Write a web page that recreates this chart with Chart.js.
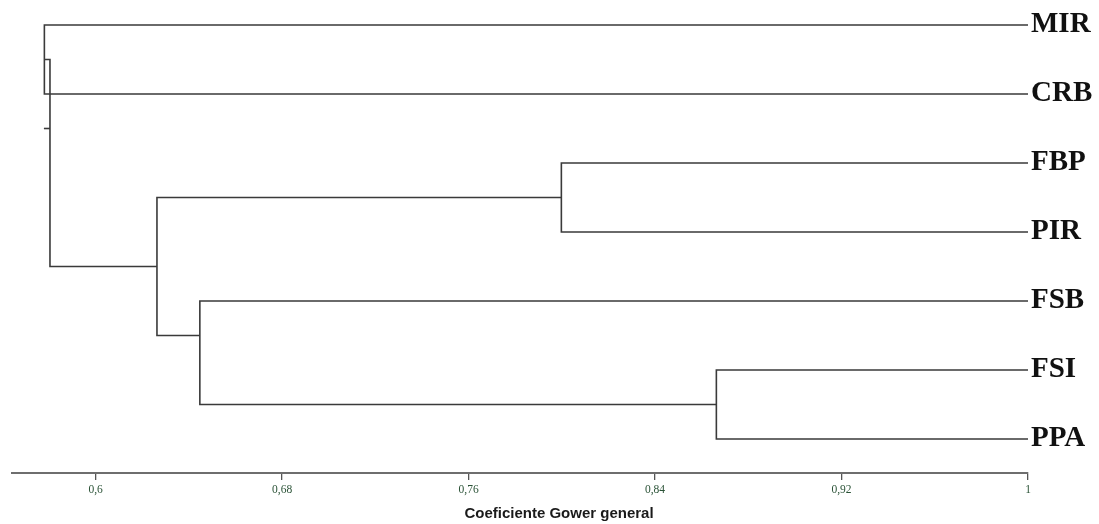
<!DOCTYPE html>
<html>
<head>
<meta charset="utf-8">
<script src="https://cdn.jsdelivr.net/npm/chart.js@4.4.1/dist/chart.umd.min.js"></script>
<style>
  html, body { margin: 0; padding: 0; background: #ffffff; }
  #wrap { width: 1099px; height: 524px; }
</style>
</head>
<body>
<div id="wrap"><canvas id="c" width="1099" height="524"></canvas></div>
<script>
// ---- data ----
const leaves = ['MIR', 'CRB', 'FBP', 'PIR', 'FSB', 'FSI', 'PPA'];
// merges (linkage style: 0..6 are leaves, 7.. are clusters in merge order)
const mergeA = [0, 2, 5, 4, 8, 7];
const mergeB = [1, 3, 6, 9, 10, 11];
const mergeLevel = [0.578, 0.7998, 0.8663, 0.6447, 0.6263, 0.5804];
const leafLevel = 1;
const rootStemEnd = 0.5778;
const tickValues = [0.6, 0.68, 0.76, 0.84, 0.92, 1];
const tickLabels = ['0,6', '0,68', '0,76', '0,84', '0,92', '1'];
const axisTitle = 'Coeficiente Gower general';

// ---- build the dendrogram segments ----
const nodeLevel = [], nodeY = [], nodeMin = [], nodeMax = [];
leaves.forEach((_, i) => { nodeLevel[i] = leafLevel; nodeY[i] = i; nodeMin[i] = i; nodeMax[i] = i; });
const datasets = [];
const lineColor = '#3a3a3a';
mergeA.forEach((a, k) => {
  const b = mergeB[k];
  const id = leaves.length + k;
  const lv = mergeLevel[k];
  nodeLevel[id] = lv;
  nodeMin[id] = Math.min(nodeMin[a], nodeMin[b]);
  nodeMax[id] = Math.max(nodeMax[a], nodeMax[b]);
  nodeY[id] = (nodeMax[a] + nodeMin[b]) / 2;
  datasets.push({
    data: [
      { x: nodeLevel[a], y: nodeY[a] },
      { x: lv, y: nodeY[a] },
      { x: lv, y: nodeY[b] },
      { x: nodeLevel[b], y: nodeY[b] }
    ],
    showLine: true, borderColor: lineColor, borderWidth: 1.6,
    pointRadius: 0, tension: 0, fill: false
  });
});
const rootId = leaves.length + mergeA.length - 1;
datasets.push({
  data: [
    { x: nodeLevel[rootId], y: nodeY[rootId] },
    { x: rootStemEnd, y: nodeY[rootId] }
  ],
  showLine: true, borderColor: lineColor, borderWidth: 1.6,
  pointRadius: 0, tension: 0, fill: false
});

const bottomTitle = {
  id: 'bottomTitle',
  afterDraw(chart) {
    const ctx = chart.ctx;
    ctx.save();
    ctx.font = 'bold 15px "Liberation Sans", Arial, sans-serif';
    ctx.fillStyle = '#1a1a1a';
    ctx.textAlign = 'center';
    ctx.textBaseline = 'middle';
    ctx.fillText(axisTitle, 559, 514);
    ctx.restore();
  }
};

new Chart(document.getElementById('c'), {
  type: 'scatter',
  data: { datasets },
  plugins: [bottomTitle],
  options: {
    responsive: false,
    animation: false,
    devicePixelRatio: 1,
    layout: { padding: { left: 12, top: 0, right: 0, bottom: 0 } },
    plugins: { legend: { display: false }, tooltip: { enabled: false } },
    scales: {
      x: {
        type: 'linear', position: 'bottom',
        min: 0.56411, max: 1,
        afterBuildTicks: s => { s.ticks = tickValues.map(v => ({ value: v })); },
        afterFit: s => { s.height = 51; s.paddingLeft = 0; s.paddingRight = 0; },
        grid: { display: true, drawOnChartArea: false, drawTicks: true, tickLength: 7, color: '#555555', lineWidth: 1.3 },
        border: { display: true, color: '#6e6e6e', width: 2 },
        ticks: {
          autoSkip: false, maxRotation: 0, padding: 3,
          color: '#2a5236',
          font: { family: '"Liberation Serif", "Times New Roman", serif', size: 11.5 },
          callback: (v, i) => tickLabels[i]
        }
      },
      y: {
        type: 'linear', position: 'right', reverse: true,
        min: -25 / 69, max: (473 - 25) / 69,
        afterBuildTicks: s => { s.ticks = leaves.map((_, i) => ({ value: i })); },
        afterFit: s => { s.width = 71; s.paddingTop = 0; s.paddingBottom = 0; },
        grid: { display: false, drawTicks: false },
        border: { display: false },
        ticks: {
          autoSkip: false, padding: 3,
          color: '#111111',
          font: { family: '"Liberation Serif", "Times New Roman", serif', size: 29, weight: 'bold' },
          callback: (v, i) => leaves[i]
        }
      }
    }
  }
});
</script>
</body>
</html>
